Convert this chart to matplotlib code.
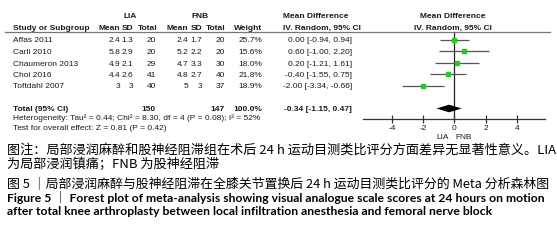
import numpy as np
import matplotlib
matplotlib.use("Agg")
import matplotlib.pyplot as plt
from matplotlib.lines import Line2D

# data
studies = ['Affas 2011', 'Carli 2010', 'Chaumeron 2013', 'Choi 2016', 'Toftdahl 2007']
lia_mean = [2.4, 5.8, 4.9, 4.4, 3]
lia_sd = [1.3, 2.9, 2.1, 2.6, 3]
lia_n = [20, 20, 29, 41, 40]
fnb_mean = [2.4, 5.2, 4.7, 4.8, 5]
fnb_sd = [1.7, 2.2, 3.3, 2.7, 3]
fnb_n = [20, 20, 30, 40, 37]
weight = [25.7, 15.6, 18.0, 21.8, 18.9]
md = [0.00, 0.60, 0.20, -0.40, -2.00]
ci_lo = [-0.94, -1.00, -1.21, -1.55, -3.34]
ci_hi = [0.94, 2.20, 1.61, 0.75, -0.66]
total_md, total_lo, total_hi = -0.34, -1.15, 0.47
ticks = [-4, -2, 0, 2, 4]

W, H = 557, 246
fig = plt.figure(figsize=(W / 100, H / 100), dpi=100)
fig.patch.set_facecolor('white')

FONT = 'Liberation Sans'
FS = 6.0
TXT = '#1a1a1a'


def px(x, y):
    return x / W, 1 - y / H


def t(x, y, s, ha='left', bold=False, size=FS, **kw):
    fig.text(*px(x, y), s, ha=ha, va='center', family=FONT, size=size,
             weight='bold' if bold else 'normal', color=TXT, **kw)


# table headers
t(130, 16, 'LIA', ha='center', bold=True)
t(200, 16, 'FNB', ha='center', bold=True)
t(283, 16, 'Mean Difference', bold=True)
t(453, 16, 'Mean Difference', ha='center', bold=True)
hy = 28.5
t(13, hy, 'Study or Subgroup', bold=True)
for xr, s in [(120, 'Mean'), (133, 'SD'), (157, 'Total'), (188, 'Mean'),
              (202, 'SD'), (225, 'Total'), (262, 'Weight')]:
    t(xr, hy, s, ha='right', bold=True)
t(283, hy, 'IV. Random, 95% CI', bold=True)
t(453, hy, 'IV. Random, 95% CI', ha='center', bold=True)
fig.add_artist(Line2D([5 / W, 550 / W], [1 - 32 / H] * 2, color='#777777', lw=0.9))

row0, step = 39.5, 11.5
for i, name in enumerate(studies):
    y = row0 + step * i + 1.5
    t(13, y, name)
    t(120, y, f'{lia_mean[i]:g}', ha='right')
    t(133, y, f'{lia_sd[i]:g}', ha='right')
    t(156, y, str(lia_n[i]), ha='right')
    t(188, y, f'{fnb_mean[i]:g}', ha='right')
    t(202, y, f'{fnb_sd[i]:g}', ha='right')
    t(225, y, str(fnb_n[i]), ha='right')
    t(262, y, f'{weight[i]:.1f}%', ha='right')
    t(352, y, f'{md[i]:.2f} [{ci_lo[i]:.2f}, {ci_hi[i]:.2f}]', ha='right')

ty = row0 + step * 6 + 1
t(13, ty, 'Total (95% CI)', bold=True)
t(156, ty, str(sum(lia_n)), ha='right', bold=True)
t(225, ty, str(sum(fnb_n)), ha='right', bold=True)
t(262, ty, f'{sum(weight):.1f}%', ha='right', bold=True)
t(352, ty, f'{total_md:.2f} [{total_lo:.2f}, {total_hi:.2f}]', ha='right', bold=True)
t(13, 118.5, 'Heterogeneity: Tau² = 0.44; Chi² = 8.30, df = 4 (P = 0.08); I² = 52%')
t(13, 129, 'Test for overall effect: Z = 0.81 (P = 0.42)')

# forest plot axes
ax_top, ax_bot = 0, 119
ax = fig.add_axes([362.7 / W, 1 - ax_bot / H, (545 - 362.7) / W, (ax_bot - ax_top) / H])
ax.set_facecolor('none')
ax.set_xlim(-5.87, 5.81)
ylo = (ax_bot - row0) / step
yhi = (ax_top - row0) / step
ax.set_ylim(ylo, yhi)
for s in ['top', 'left', 'right']:
    ax.spines[s].set_visible(False)
ax.spines['bottom'].set_color('#333333')
ax.spines['bottom'].set_linewidth(0.9)
ax.set_yticks([])
ax.set_xticks(ticks)
ax.set_xticklabels([str(v) for v in ticks], family=FONT, size=FS, color=TXT)
ax.tick_params(axis='x', direction='inout', length=6, width=0.9, color='#333333', pad=1)

ax.plot([0, 0], [(32 - row0) / step, ylo], color='#222222', lw=0.9, zorder=1)
rows = np.arange(len(studies))
ax.hlines(rows, ci_lo, ci_hi, color='#555555', lw=0.9, zorder=2)
for i in rows:
    ax.plot(md[i], i, 's', color='#22cc22', mec='#22cc22',
            ms=0.58 * np.sqrt(weight[i]), zorder=3)
yd = 6
ax.fill([total_lo, total_md, total_hi, total_md], [yd, yd - 0.33, yd, yd + 0.33],
        color='black', lw=0, zorder=3)

t(443, 137.5, 'LIA', ha='center')
t(464, 137.5, 'FNB', ha='center')

# caption
CJK = ['Noto Sans CJK SC', 'DejaVu Sans']
cap = dict(family=CJK, size=9.45, color='black', va='center', ha='left')
fig.text(*px(7, 150), '图注：局部浸润麻醉和股神经阻滞组在术后 24 h 运动目测类比评分方面差异无显著性意义。LIA', **cap)
fig.text(*px(7, 165), '为局部浸润镇痛；FNB 为股神经阻滞', **cap)
cap3 = dict(cap, size=9.3)
fig.text(*px(7, 183.3), '图 5 ｜局部浸润麻醉与股神经阻滞在全膝关节置换后 24 h 运动目测类比评分的 Meta 分析森林图', **cap3)
eng = dict(family=['Lato', 'Noto Sans CJK SC'], size=8.7, weight='bold', color='black', va='center', ha='left')
fig.text(*px(7, 197.3), 'Figure 5 ｜ Forest plot of meta-analysis showing visual analogue scale scores at 24 hours on motion', **eng)
fig.text(*px(7, 211.7), 'after total knee arthroplasty between local infiltration anesthesia and femoral nerve block', **eng)

fig.savefig('out.png', dpi=100, facecolor='white')
